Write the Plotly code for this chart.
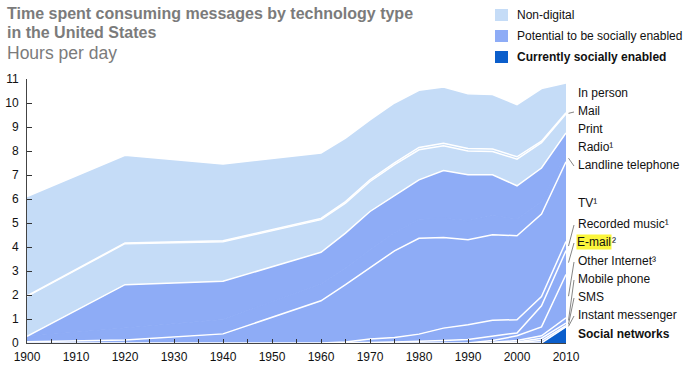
import plotly.graph_objects as go

# ---------------- data (hours per day) ----------------
years = [1900, 1920, 1940, 1960, 1965, 1970, 1975, 1980, 1985, 1990, 1995, 2000, 2005, 2010]

social_networks   = [0, 0, 0, 0, 0, 0, 0, 0, 0, 0, 0, 0, 0, 0.67]
instant_messenger = [0, 0, 0, 0, 0, 0, 0, 0, 0, 0, 0, 0.02, 0.10, 0.05]
sms               = [0, 0, 0, 0, 0, 0, 0, 0, 0, 0, 0, 0.02, 0.10, 0.11]
mobile_phone      = [0, 0, 0, 0, 0, 0, 0, 0, 0, 0, 0.03, 0.06, 0.10, 0.22]
other_internet    = [0, 0, 0, 0, 0, 0, 0, 0, 0, 0, 0.07, 0.20, 0.37, 1.80]
email             = [0, 0, 0, 0, 0, 0.02, 0.04, 0.06, 0.10, 0.15, 0.18, 0.12, 0.88, 1.00]
recorded_music    = [0, 0, 0, 0, 0.04, 0.15, 0.19, 0.31, 0.52, 0.61, 0.67, 0.55, 0.39, 0.38]
tv                = [0.05, 0.13, 0.38, 1.76, 2.39, 2.95, 3.61, 3.99, 3.78, 3.54, 3.56, 3.50, 3.43, 3.32]
landline          = [0.23, 0.50, 0.60, 0.70, 0.70, 0.75, 0.75, 0.80, 0.80, 0.80, 0.80, 0.70, 0.50, 0.30]
radio             = [0.00, 1.80, 1.59, 1.32, 1.45, 1.61, 1.55, 1.64, 1.99, 1.91, 1.70, 1.38, 1.42, 0.90]
print_media       = [1.66, 1.71, 1.65, 1.36, 1.25, 1.25, 1.29, 1.25, 1.03, 0.99, 0.97, 1.11, 1.06, 0.80]
mail              = [0.02, 0.03, 0.04, 0.05, 0.06, 0.07, 0.08, 0.10, 0.10, 0.10, 0.10, 0.10, 0.06, 0.04]
in_person         = [4.14, 3.65, 3.20, 2.73, 2.65, 2.50, 2.49, 2.38, 2.35, 2.29, 2.27, 2.17, 2.19, 1.24]

x_ticks = [1900, 1910, 1920, 1930, 1940, 1950, 1960, 1970, 1980, 1990, 2000, 2010]
y_ticks = list(range(0, 12))

legend_labels = ["Non-digital", "Potential to be socially enabled", "Currently socially enabled"]

LIGHT = "#c5dcf7"
MED = "#8eacf6"
DARK = "#0b5ecb"

# layers bottom -> top : (name, values, colour, label text, leader?)
layers = [
    ("Social networks", social_networks, DARK, "<b>Social networks</b>", False),
    ("Instant messenger", instant_messenger, MED, "Instant messenger", True),
    ("SMS", sms, MED, "SMS", True),
    ("Mobile phone", mobile_phone, MED, "Mobile phone", True),
    ("Other Internet", other_internet, MED, "Other Internet³", True),
    ("E-mail", email, MED, "E-mail", True),
    ("Recorded music", recorded_music, MED, "Recorded music¹", True),
    ("TV", tv, MED, "TV¹", False),
    ("Landline telephone", landline, MED, "Landline telephone", True),
    ("Radio", radio, MED, "Radio¹", False),
    ("Print", print_media, LIGHT, "Print", False),
    ("Mail", mail, LIGHT, "Mail", True),
    ("In person", in_person, LIGHT, "In person", False),
]
# label pixel rows (layout only)
label_rows = {
    "In person": 93, "Mail": 111, "Print": 129, "Radio": 147, "Landline telephone": 165,
    "TV": 203, "Recorded music": 224, "E-mail": 242, "Other Internet": 261,
    "Mobile phone": 279, "SMS": 297, "Instant messenger": 315, "Social networks": 334,
}

W, H = 693, 371
ML, MR, MT, MB = 27, 127, 79, 28
PW, PH = W - ML - MR, H - MT - MB
YMAX = 11


def px(x):
    return (x - ML) / PW


def py(y):
    return (H - MB - y) / PH


FONT = "Liberation Sans, Arial, Helvetica, sans-serif"

fig = go.Figure()
for name, vals, col, _, _ in layers:
    # the landline/radio boundary is not outlined in the reference
    line = dict(color=MED, width=1.2) if name == "Landline telephone" else dict(color="white", width=1.5)
    fig.add_trace(go.Scatter(
        x=years, y=vals, name=name, mode="lines", stackgroup="one",
        line=line, fillcolor=col, showlegend=False,
        hoverinfo="x+y+name",
    ))

annotations = []
shapes = []

# right-hand labels with leader lines
cum = [0.0] * len(years)
for name, vals, col, text, leader in layers:
    lo = cum[-1]
    cum = [c + v for c, v in zip(cum, vals)]
    hi = cum[-1]
    row = label_rows[name]
    if name == "E-mail":
        annotations.append(dict(xref="paper", yref="paper", x=px(576), y=py(row), xanchor="left",
                                yanchor="middle", text="E-mail", showarrow=False, bgcolor="#fbf53c",
                                borderpad=0, font=dict(family=FONT, size=12, color="#111")))
        annotations.append(dict(xref="paper", yref="paper", x=px(610), y=py(row), xanchor="left",
                                yanchor="middle", text="²", showarrow=False,
                                font=dict(family=FONT, size=12, color="#111")))
    else:
        annotations.append(dict(xref="paper", yref="paper", x=px(576), y=py(row), xanchor="left",
                                yanchor="middle", text=text, showarrow=False,
                                font=dict(family=FONT, size=12, color="#111")))
    if leader:
        mid = (lo + hi) / 2
        shapes.append(dict(type="line", xref="paper", yref="paper",
                           x0=px(568.5), y0=mid / YMAX, x1=px(574), y1=py(row + 1),
                           line=dict(color="#666", width=0.8)))

# title
annotations += [
    dict(xref="paper", yref="paper", x=px(5), y=py(13), xanchor="left", yanchor="middle",
         text="<b>Time spent consuming messages by technology type</b>", showarrow=False,
         font=dict(family=FONT, size=16, color="#7b7b7b")),
    dict(xref="paper", yref="paper", x=px(5), y=py(32), xanchor="left", yanchor="middle",
         text="<b>in the United States</b>", showarrow=False,
         font=dict(family=FONT, size=16, color="#7b7b7b")),
    dict(xref="paper", yref="paper", x=px(5), y=py(53), xanchor="left", yanchor="middle",
         text="Hours per day", showarrow=False,
         font=dict(family=FONT, size=17.5, color="#7b7b7b")),
]

# legend (manual)
for i, (lab, col) in enumerate(zip(legend_labels, [LIGHT, MED, DARK])):
    cy = 15 + i * 21
    shapes.append(dict(type="rect", xref="paper", yref="paper", x0=px(495), x1=px(508),
                       y0=py(cy + 6), y1=py(cy - 6), fillcolor=col, line=dict(width=0)))
    annotations.append(dict(xref="paper", yref="paper", x=px(515), y=py(cy), xanchor="left",
                            yanchor="middle", text=("<b>%s</b>" % lab) if i == 2 else lab,
                            showarrow=False, font=dict(family=FONT, size=12, color="#111")))

fig.update_layout(
    width=W, height=H, margin=dict(l=ML, r=MR, t=MT, b=MB, pad=0, autoexpand=False),
    paper_bgcolor="white", plot_bgcolor="white",
    annotations=annotations, shapes=shapes,
    font=dict(family=FONT, size=12, color="#111"),
    xaxis=dict(range=[1900, 2010], tickvals=x_ticks, ticktext=[str(t) for t in x_ticks],
               ticks="inside", ticklen=4, tickcolor="#333", showline=True, linecolor="#444",
               linewidth=1, showgrid=False, zeroline=False, fixedrange=True, automargin=False,
               ticklabelstandoff=3,
               minor=dict(dtick=5, tick0=1900, ticks="inside", ticklen=4, tickcolor="#333", showgrid=False),
               tickfont=dict(family=FONT, size=12, color="#111")),
    yaxis=dict(range=[0, YMAX], tickvals=y_ticks, ticks="inside", ticklen=5, tickcolor="#333",
               showline=True, linecolor="#444", linewidth=1, showgrid=False, zeroline=False,
               fixedrange=True, automargin=False, ticklabelstandoff=5,
               tickfont=dict(family=FONT, size=12, color="#111")),
)

fig.write_html("out.html", config={"displayModeBar": False},
               post_script="document.body.style.margin='0';")
